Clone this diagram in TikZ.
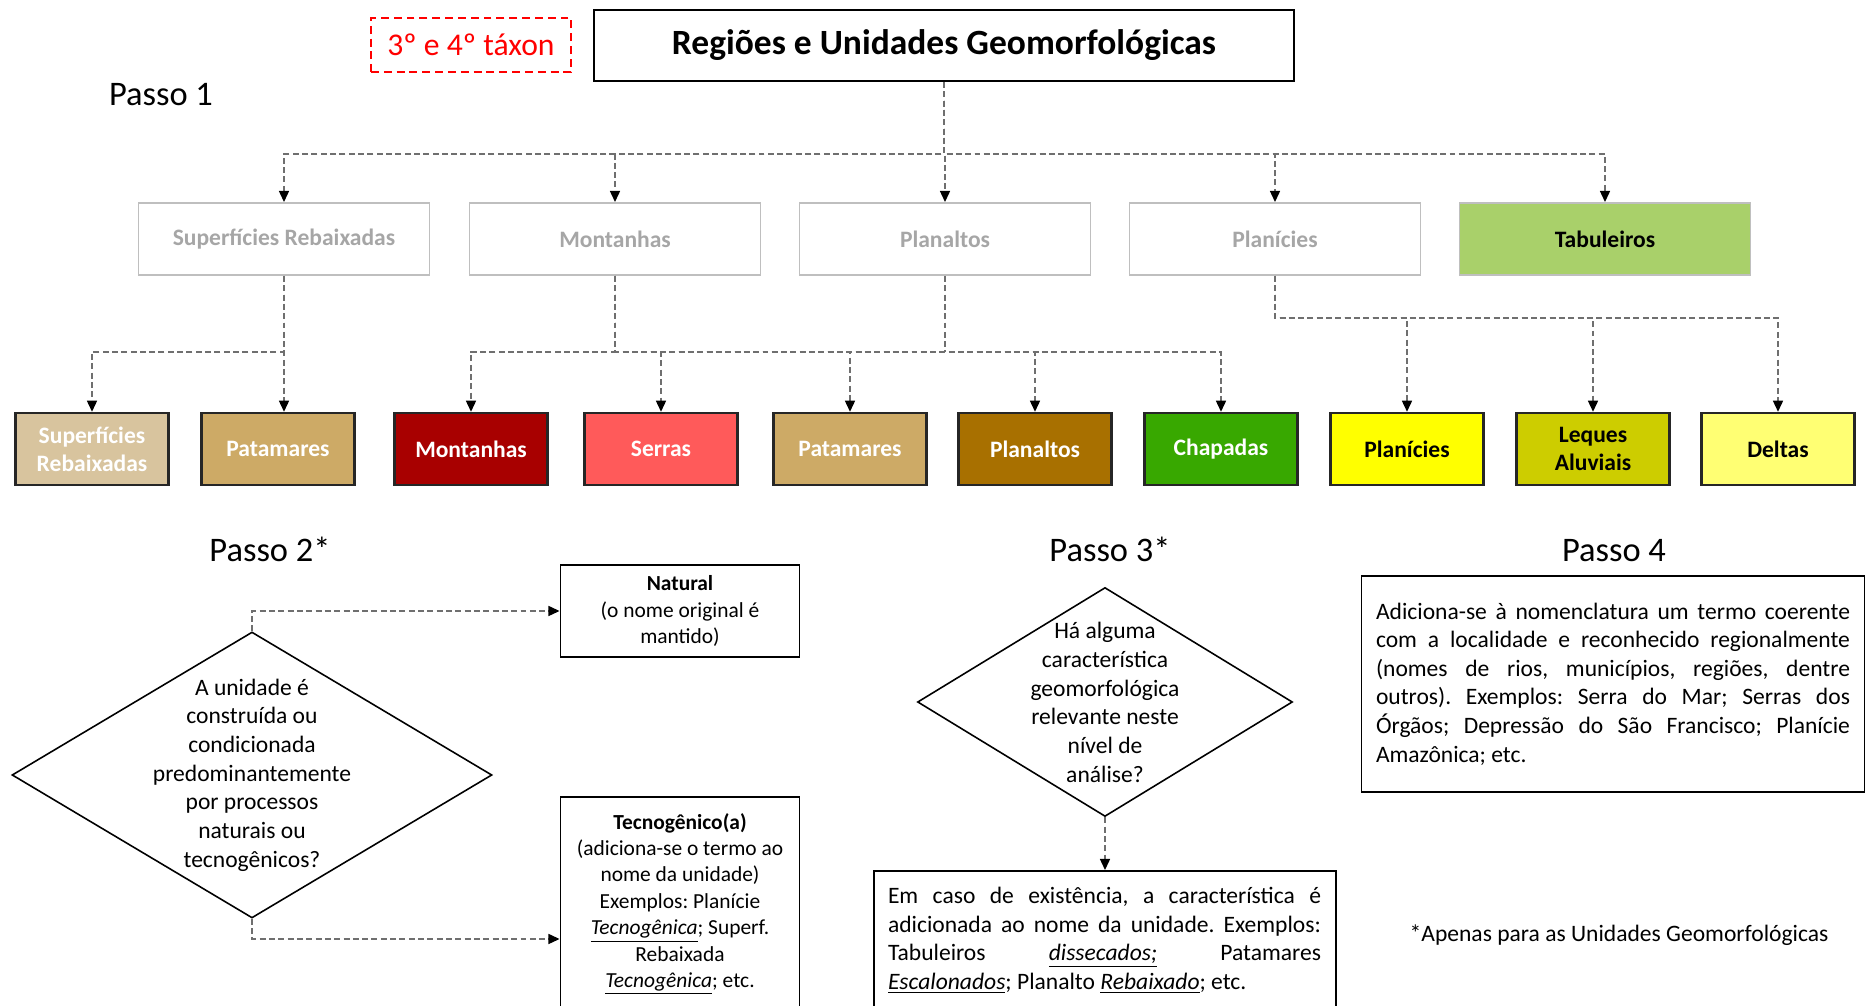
\documentclass[tikz,border=0pt]{standalone}
\usepackage{fontspec}
\setmainfont{Carlito}
\usepackage{xcolor}
\usepackage{tikz}
\usetikzlibrary{shapes.geometric}
\usetikzlibrary{arrows.meta}
\frenchspacing

\definecolor{cGrayLine}{HTML}{BFBFBF}
\definecolor{cGrayText}{HTML}{A6A6A6}
\definecolor{cConn}{HTML}{6F6F6F}
\definecolor{cTabuleiros}{HTML}{A9D06A}
\definecolor{cSupRebaix}{HTML}{D8C49E}
\definecolor{cPatamares}{HTML}{CDAA66}
\definecolor{cMontanhas}{HTML}{A80000}
\definecolor{cSerras}{HTML}{FF5A5A}
\definecolor{cPlanaltos}{HTML}{A87000}
\definecolor{cChapadas}{HTML}{38A800}
\definecolor{cPlanicies}{HTML}{FFFF00}
\definecolor{cLeques}{HTML}{CDCD00}
\definecolor{cDeltas}{HTML}{FFFF73}

\newcommand{\fsBody}{\fontsize{13.4}{16.3}\selectfont}
\newcommand{\fsSmall}{\fontsize{12.2}{15}\selectfont}

\tikzset{
	conn/.style={cConn, line width=0.85pt, dash pattern=on 3.4pt off 1.9pt, -{Triangle[width=5.7pt,length=6.3pt,color=black]}},
	wire/.style={cConn, line width=0.85pt, dash pattern=on 3.4pt off 1.9pt},
	titlebox/.style={shape=rectangle, draw=black, line width=1.2pt, font=\fontsize{20.2}{24}\selectfont\bfseries},
	taxonbox/.style={shape=rectangle, draw=red, line width=1.1pt, dash pattern=on 4.5pt off 2.8pt, text=red, font=\fontsize{18}{22}\selectfont},
	passolabel/.style={anchor=base, inner sep=0pt, font=\fontsize{19.6}{24}\selectfont},
	levelA/.style={shape=rectangle, draw=cGrayLine, line width=1.1pt, text=cGrayText, font=\fontsize{13.4}{16}\selectfont\bfseries, minimum width=5.82cm, minimum height=1.44cm},
	levelB/.style={shape=rectangle, draw=black!85, line width=1.4pt, text=white, align=center, font=\fontsize{13.4}{15.9}\selectfont\bfseries, minimum width=3.06cm, minimum height=1.44cm},
	choice/.style={shape=diamond, draw=black, line width=0.9pt, inner sep=0pt},
	infobox/.style={shape=rectangle, draw=black, line width=1.1pt},
	textbody/.style={inner sep=0pt, font=\fsBody},
	textsmall/.style={inner sep=0pt, align=center, font=\fsSmall}
}

\begin{document}
\begin{tikzpicture}
	% Paths, nodes and wires:
	\useasboundingbox (0,0) rectangle (37.4,20.12);
	\clip (0,0) rectangle (37.4,20.12);
	\node[titlebox, minimum width=14cm, minimum height=1.42cm](R0) at (18.88, 19.21){Regiões e Unidades Geomorfológicas};
	\node[taxonbox, minimum width=4cm, minimum height=1.08cm](T0) at (9.42, 19.22){3º e 4º táxon};
	\node[passolabel](P1) at (3.22, 18.00){Passo 1};
	\node[passolabel](P2) at (5.40, 8.88){Passo 2*};
	\node[passolabel](P3) at (22.20, 8.88){Passo 3*};
	\node[passolabel](P4) at (32.28, 8.88){Passo 4};

	% Passo 1, first level
	\node[levelA](A1) at (5.68, 15.34){Superfícies Rebaixadas};
	\node[levelA](A2) at (12.30, 15.34){Montanhas};
	\node[levelA](A3) at (18.90, 15.34){Planaltos};
	\node[levelA](A4) at (25.50, 15.34){Planícies};
	\node[levelA, fill=cTabuleiros, text=black](A5) at (32.10, 15.34){Tabuleiros};

	% Passo 1, second level
	\node[levelB, fill=cSupRebaix](B1) at (1.84, 11.14){Superfícies\\Rebaixadas};
	\node[levelB, fill=cPatamares](B2) at (5.56, 11.14){Patamares};
	\node[levelB, fill=cMontanhas](B3) at (9.42, 11.14){Montanhas};
	\node[levelB, fill=cSerras](B4) at (13.22, 11.14){Serras};
	\node[levelB, fill=cPatamares](B5) at (17.00, 11.14){Patamares};
	\node[levelB, fill=cPlanaltos](B6) at (20.70, 11.14){Planaltos};
	\node[levelB, fill=cChapadas](B7) at (24.42, 11.14){Chapadas};
	\node[levelB, fill=cPlanicies, text=black](B8) at (28.14, 11.14){Planícies};
	\node[levelB, fill=cLeques, text=black](B9) at (31.86, 11.14){Leques\\Aluviais};
	\node[levelB, fill=cDeltas, text=black](B10) at (35.56, 11.14){Deltas};

	\coordinate (J0) at (0, 17.04);
	\coordinate (J1) at (0, 13.08);
	\coordinate (J3) at (0, 13.76);
	\foreach \i in {1,...,5}
		\draw[conn] (R0.south) |- (J0 -| A\i.north) -- (A\i.north);
	\draw[conn] (A1.south) -- (A1.south |- B2.north);
	\draw[conn] (A1.south) |- (J1 -| B1.north) -- (B1.north);
	\foreach \i in {3,...,7}
		\draw[conn] (A2.south) |- (J1 -| B\i.north) -- (B\i.north);
	\draw[wire] (A3.south) -- (A3.south |- J1);
	\foreach \i in {8,9,10}
		\draw[conn] (A4.south) |- (J3 -| B\i.north) -- (B\i.north);

	% Passo 2
	\node[choice, minimum width=9.6cm, minimum height=5.72cm](D2) at (5.04, 4.62){} node[textbody, align=center](D2t) at (D2.center){A unidade é\\construída ou\\condicionada\\predominantemente\\por processos\\naturais ou\\tecnogênicos?};
	\node[infobox, minimum width=4.78cm, minimum height=1.84cm, align=center, font=\fsSmall](C1) at (13.60, 7.90){\textbf{Natural}\\(o nome original é\\mantido)};
	\node[infobox, minimum width=4.78cm, minimum height=4.66cm](C2) at (13.60, 1.85){} node[textsmall](C2t) at (13.60, 2.04){\textbf{Tecnogênico(a)}\\(adiciona-se o termo ao\\nome da unidade)\\Exemplos: Planície\\\underline{\textit{Tecnogênica}}; Superf.\\Rebaixada\\\underline{\textit{Tecnogênica}}; etc.};
	\coordinate (K2) at (C2.west |- 0, 1.34);
	\draw[conn] (D2.north) |- (C1.west);
	\draw[conn] (D2.south) |- (K2);

	% Passo 3
	\node[choice, minimum width=7.5cm, minimum height=4.58cm](D3) at (22.10, 6.08){} node[textbody, align=center](D3t) at (22.10, 6.07){Há alguma\\característica\\geomorfológica\\relevante neste\\nível de\\análise?};
	\node[infobox, minimum width=9.24cm, minimum height=3.2cm](C3) at (22.10, 1.10){} node[textbody, text width=8.66cm, align=justify](C3t) at (22.09, 1.32){Em caso de existência, a característica é\linebreak adicionada ao nome da unidade. Exemplos:\linebreak Tabuleiros \underline{\textit{dissecados;}} Patamares\linebreak \underline{\textit{Escalonados}}; Planalto \underline{\textit{Rebaixado}}; etc.};
	\draw[conn] (D3.south) -- (C3.north);

	% Passo 4
	\node[infobox, minimum width=10.06cm, minimum height=4.32cm, text width=9.48cm, align=justify, font=\fsBody](C4) at (32.26, 6.44){Adiciona-se à nomenclatura um termo coerente\linebreak com a localidade e reconhecido regionalmente\linebreak (nomes de rios, municípios, regiões, dentre\linebreak outros). Exemplos: Serra do Mar; Serras dos\linebreak Órgãos; Depressão do São Francisco; Planície\linebreak Amazônica; etc.};
	\node[textbody](N1) at (32.38, 1.42){*Apenas para as Unidades Geomorfológicas};
\end{tikzpicture}
\end{document}
